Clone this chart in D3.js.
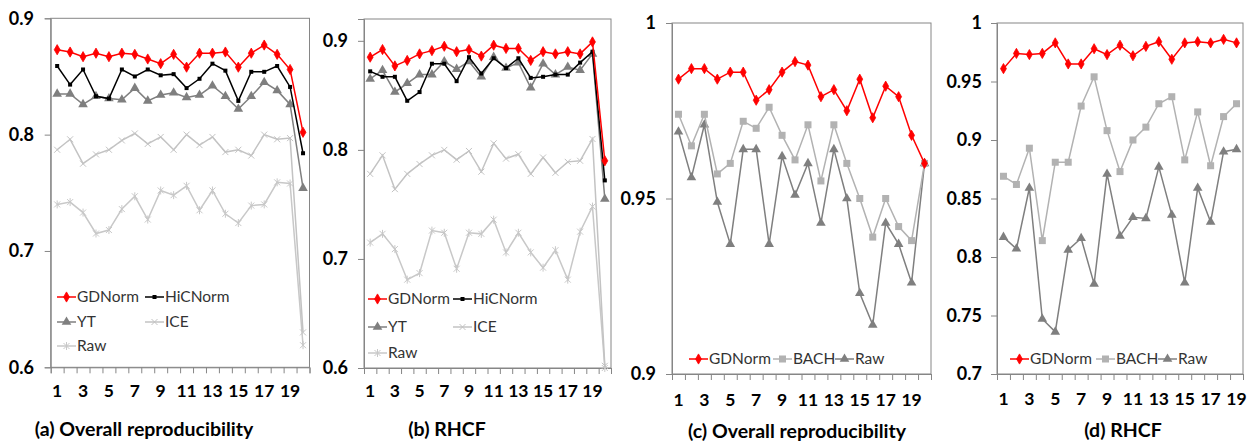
<!DOCTYPE html>
<html><head><meta charset="utf-8">
<script src="https://cdn.jsdelivr.net/npm/d3@7"></script>
<style>
html,body{margin:0;padding:0;background:#fff;}
svg text{font-family:Lato,"Open Sans","DejaVu Sans",sans-serif;}
</style></head>
<body><svg id="c" width="1248" height="441"></svg>
<script>
// ---------- DATA ----------
const categories20 = [1,2,3,4,5,6,7,8,9,10,11,12,13,14,15,16,17,18,19,20];
const categories19 = [1,2,3,4,5,6,7,8,9,10,11,12,13,14,15,16,17,18,19];
const tickLabelsX = [1,3,5,7,9,11,13,15,17,19];

// (a) Overall reproducibility
const a_GDNorm  = [0.873,0.871,0.867,0.870,0.867,0.870,0.869,0.865,0.861,0.869,0.858,0.870,0.870,0.871,0.858,0.870,0.877,0.869,0.856,0.802];
const a_HiCNorm = [0.859,0.843,0.856,0.833,0.831,0.856,0.850,0.856,0.851,0.852,0.840,0.848,0.861,0.855,0.829,0.854,0.854,0.859,0.841,0.784];
const a_YT      = [0.835,0.835,0.826,0.833,0.831,0.830,0.840,0.829,0.834,0.836,0.832,0.834,0.842,0.833,0.822,0.833,0.845,0.838,0.826,0.754];
const a_ICE     = [0.787,0.796,0.775,0.783,0.787,0.795,0.801,0.792,0.798,0.787,0.800,0.791,0.798,0.785,0.787,0.782,0.800,0.796,0.797,0.630];
const a_Raw     = [0.740,0.742,0.733,0.715,0.718,0.736,0.747,0.727,0.752,0.748,0.756,0.735,0.752,0.732,0.724,0.739,0.740,0.759,0.758,0.619];

// (b) RHCF
const b_GDNorm  = [0.885,0.892,0.877,0.882,0.888,0.891,0.895,0.890,0.892,0.886,0.896,0.893,0.893,0.882,0.890,0.888,0.890,0.888,0.899,0.790];
const b_HiCNorm = [0.872,0.867,0.867,0.845,0.853,0.879,0.879,0.863,0.885,0.870,0.884,0.875,0.884,0.866,0.867,0.869,0.869,0.880,0.890,0.772];
const b_YT      = [0.865,0.873,0.853,0.861,0.869,0.869,0.881,0.874,0.881,0.867,0.885,0.875,0.880,0.857,0.879,0.869,0.876,0.873,0.888,0.755];
const b_ICE     = [0.778,0.795,0.764,0.778,0.787,0.795,0.800,0.791,0.799,0.780,0.806,0.792,0.796,0.778,0.793,0.779,0.789,0.790,0.810,0.602];
const b_Raw     = [0.715,0.723,0.709,0.681,0.687,0.726,0.724,0.691,0.724,0.723,0.736,0.706,0.724,0.706,0.692,0.708,0.681,0.725,0.748,0.600];

// (c) Overall reproducibility
const c_GDNorm = [0.984,0.987,0.987,0.984,0.986,0.986,0.978,0.981,0.986,0.989,0.988,0.979,0.981,0.975,0.984,0.973,0.982,0.979,0.968,0.960];
const c_BACH   = [0.974,0.965,0.974,0.957,0.960,0.972,0.970,0.976,0.968,0.961,0.971,0.955,0.971,0.960,0.950,0.939,0.950,0.942,0.938,0.960];
const c_Raw    = [0.969,0.956,0.971,0.949,0.937,0.964,0.964,0.937,0.962,0.951,0.960,0.943,0.964,0.950,0.923,0.914,0.943,0.937,0.926,0.960];

// (d) RHCF
const d_GDNorm = [0.961,0.974,0.973,0.974,0.983,0.965,0.965,0.978,0.973,0.981,0.972,0.980,0.984,0.969,0.983,0.984,0.983,0.986,0.983];
const d_BACH   = [0.869,0.862,0.893,0.814,0.881,0.881,0.929,0.954,0.908,0.873,0.900,0.911,0.931,0.937,0.883,0.924,0.878,0.920,0.931];
const d_Raw    = [0.817,0.807,0.859,0.747,0.736,0.806,0.816,0.777,0.871,0.818,0.834,0.833,0.877,0.836,0.778,0.859,0.830,0.890,0.892];

const yTicksAB = [0.6,0.7,0.8,0.9];
const yTicksC = [0.9,0.95,1];
const yTicksD = [0.7,0.75,0.8,0.85,0.9,0.95,1];

// ---------- STYLES ----------
const STY = {
  GDNorm:  {color:"#ff0000", marker:"diamond", w:1.5},
  HiCNorm: {color:"#000000", marker:"square", w:1.5},
  YT:      {color:"#7f7f7f", marker:"triangle", w:1.5},
  ICE:     {color:"#c3c3c3", marker:"x", w:1.5},
  Raw:     {color:"#c8c8c8", marker:"star", w:1.5},
  BACH:    {color:"#b2b2b2", marker:"bigsquare", w:1.5},
  RawD:    {color:"#7f7f7f", marker:"triangle", w:1.5}
};

const panels = [
  {cats:categories20, domain:[0.6,0.9], ticks:yTicksAB, x0:50.7, x1:309.5, yTop:18.3, yBot:367.3, labRight:34, xLabY:391, title:"(a) Overall reproducibility", titleX:144, titleY:429,
   series:[["GDNorm",a_GDNorm],["HiCNorm",a_HiCNorm],["YT",a_YT],["ICE",a_ICE],["Raw",a_Raw]],
   legend:{cols:[57,145], rows:[297,322,346], order:[["GDNorm",0,0],["HiCNorm",1,0],["YT",0,1],["ICE",1,1],["Raw",0,2]]}},
  {cats:categories20, domain:[0.6,0.92], ticks:yTicksAB, x0:364, x1:611, yTop:19, yBot:368, labRight:348, xLabY:391, title:"(b) RHCF", titleX:447, titleY:429,
   series:[["GDNorm",b_GDNorm],["HiCNorm",b_HiCNorm],["YT",b_YT],["ICE",b_ICE],["Raw",b_Raw]],
   legend:{cols:[368,453], rows:[299,327,353], order:[["GDNorm",0,0],["HiCNorm",1,0],["YT",0,1],["ICE",1,1],["Raw",0,2]]}},
  {cats:categories20, domain:[0.9,1], ticks:yTicksC, x0:672, x1:931, yTop:23, yBot:374, labRight:656, xLabY:400, title:"(c) Overall reproducibility", titleX:797, titleY:431,
   series:[["GDNorm",c_GDNorm],["BACH",c_BACH],["RawD",c_Raw]],
   legend:{cols:[689,773,835], rows:[359], order:[["GDNorm",0,0],["BACH",1,0],["RawD",2,0]]}},
  {cats:categories19, domain:[0.7,1], ticks:yTicksD, x0:997, x1:1243, yTop:23, yBot:374, labRight:982, xLabY:399, title:"(d) RHCF", titleX:1123, titleY:430,
   series:[["GDNorm",d_GDNorm],["BACH",d_BACH],["RawD",d_Raw]],
   legend:{cols:[1010,1096,1158], rows:[359], order:[["GDNorm",0,0],["BACH",1,0],["RawD",2,0]]}}
];

const svg = d3.select("#c");
const AX = "#868686";

function marker(g, type, color){
  if(type==="diamond"){
    g.append("path").attr("d", d3.symbol(d3.symbolDiamond, 30)()).attr("fill",color).attr("stroke",color).attr("stroke-width",0.8);
  } else if(type==="square"){
    g.append("rect").attr("x",-2).attr("y",-2).attr("width",4).attr("height",4).attr("fill",color);
  } else if(type==="bigsquare"){
    g.append("rect").attr("x",-3.5).attr("y",-3.5).attr("width",7).attr("height",7).attr("fill",color);
  } else if(type==="triangle"){
    g.append("path").attr("d", d3.symbol(d3.symbolTriangle, 40)()).attr("fill",color);
  } else if(type==="x"){
    g.append("path").attr("d","M-3,-3L3,3M-3,3L3,-3").attr("stroke",color).attr("stroke-width",1).attr("fill","none");
  } else if(type==="star"){
    g.append("path").attr("d","M-3,-3L3,3M-3,3L3,-3M0,-4L0,4").attr("stroke",color).attr("stroke-width",1).attr("fill","none");
  }
}

const fmt = d => (d===1 ? "1" : String(+d.toFixed(2)));

panels.forEach(p => {
  const n = p.cats.length;
  const x = d3.scaleLinear().domain([0,n]).range([p.x0,p.x1]);
  const y = d3.scaleLinear().domain(p.domain).range([p.yBot,p.yTop]);
  const g = svg.append("g");

  // frame
  g.append("rect").attr("x",p.x0).attr("y",p.yTop).attr("width",p.x1-p.x0).attr("height",p.yBot-p.yTop)
    .attr("fill","none").attr("stroke",AX).attr("stroke-width",1);

  // y axis
  const ya = g.append("g").attr("transform",`translate(${p.x0},0)`)
    .call(d3.axisLeft(y).tickValues(p.ticks).tickSize(6).tickFormat(""));
  ya.select(".domain").attr("stroke",AX);
  ya.selectAll(".tick line").attr("stroke",AX);
  g.selectAll(".ylab").data(p.ticks).join("text")
    .attr("x",p.labRight).attr("y",d=>y(d)).attr("dy","0.35em").attr("text-anchor","end")
    .attr("font-size",18).attr("font-weight","bold").attr("fill","#000").text(fmt);

  // x axis
  const xa = g.append("g").attr("transform",`translate(0,${p.yBot})`)
    .call(d3.axisBottom(x).tickValues(d3.range(n+1)).tickSize(6).tickFormat(""));
  xa.select(".domain").attr("stroke",AX);
  xa.selectAll(".tick line").attr("stroke",AX);
  g.selectAll(".xlab").data(tickLabelsX).join("text")
    .attr("x",d=>x(p.cats.indexOf(d)+0.5)).attr("y",p.xLabY).attr("dy","0.35em").attr("text-anchor","middle")
    .attr("font-size",17.5).attr("font-weight","bold").attr("fill","#000").text(d=>d);

  // title
  g.append("text").attr("x",p.titleX).attr("y",p.titleY).attr("dy","0.35em").attr("text-anchor","middle")
    .attr("font-size",19.5).attr("font-weight","bold").attr("fill","#000").text(p.title);

  // series (draw back to front)
  const line = d3.line().x((d,i)=>x(i+0.5)).y(d=>y(d));
  p.series.slice().reverse().forEach(([name,vals]) => {
    const s = STY[name];
    g.append("path").datum(vals).attr("d",line).attr("fill","none").attr("stroke",s.color).attr("stroke-width",s.w);
    vals.forEach((v,i) => {
      const mg = g.append("g").attr("transform",`translate(${x(i+0.5)},${y(v)})`);
      marker(mg, s.marker, s.color);
    });
  });

  // legend
  p.legend.order.forEach(([name,ci,ri]) => {
    const s = STY[name];
    const lx = p.legend.cols[ci], ly = p.legend.rows[ri];
    const lg = g.append("g");
    lg.append("line").attr("x1",lx).attr("x2",lx+19).attr("y1",ly).attr("y2",ly).attr("stroke",s.color).attr("stroke-width",1.5);
    marker(lg.append("g").attr("transform",`translate(${lx+9.5},${ly})`), s.marker, s.color);
    lg.append("text").attr("x",lx+20).attr("y",ly).attr("dy","0.35em").attr("font-size",15.5)
      .attr("fill","#333").text(name==="RawD" ? "Raw" : name);
  });
});
</script></body></html>
